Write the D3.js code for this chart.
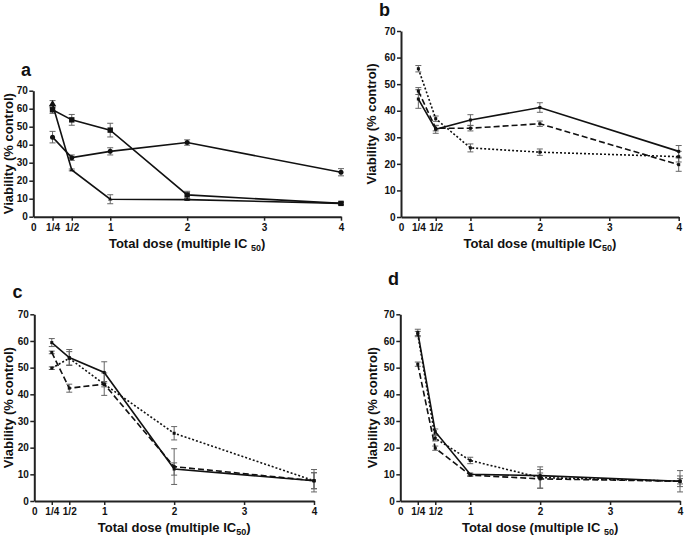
<!DOCTYPE html>
<html><head><meta charset="utf-8">
<script src="https://cdn.jsdelivr.net/npm/d3@7"></script>
<style>html,body{margin:0;padding:0;background:#fff;}svg{display:block;font-family:"Liberation Sans",Arial,sans-serif;}</style>
</head><body>
<svg id="chart" width="685" height="537"></svg>
<script>
// ---- data ----
const doses = [0.25, 0.5, 1, 2, 4];
const doseTicks = [0, 0.25, 0.5, 1, 2, 3, 4];
const doseTickLabels = ["0", "1/4", "1/2", "1", "2", "3", "4"];
const viabilityTicks = [0, 10, 20, 30, 40, 50, 60, 70];

// panel a
const aCircle = [44.2, 32.8, 36.3, 41.2, 24.7];
const aCircleErr = [3.2, 1.5, 2, 1.5, 2];
const aSquare = [59.4, 53.8, 48.1, 12.1, 7.4];
const aSquareErr = [2, 3, 3.8, 2, 0.8];
const aTriangle = [62.5, 26, 9.7, 9.5, 7.4];
const aTriangleErr = [2, 0.5, 2.5, 0.5, 0.5];

// panel b
const bSolid = [44.4, 33, 36.5, 41.2, 24.7];
const bSolidErr = [3.5, 1.5, 2, 1.8, 2.2];
const bDashed = [47.4, 33.4, 33.4, 35.1, 19.7];
const bDashedErr = [1.3, 1, 1, 1, 2.5];
const bDotted = [55.8, 37, 26, 24.4, 22.7];
const bDottedErr = [1.2, 1, 1.5, 1.2, 2];

// panel c
const cSolid = [59.4, 53.8, 48.2, 12, 7.6];
const cSolidErr = [1.5, 3, 4, 2.3, 3];
const cDashed = [55.7, 42.3, 43.8, 12.9, 7.6];
const cDashedErr = [0.5, 1.5, 4.2, 6.7, 4.2];
const cDotted = [49.8, 53.5, 43.8, 25.4, 7.6];
const cDottedErr = [0.5, 2.5, 1, 2.5, 3];

// panel d
const dSolid = [63.2, 26, 10, 9.5, 7.4];
const dSolidErr = [1.2, 1, 0.5, 1, 4];
const dDashed = [51.3, 19.8, 9.7, 8.3, 7.4];
const dDashedErr = [0.8, 0.8, 0.5, 3.5, 1];
const dDotted = [62.6, 23.5, 15.2, 8.8, 7.4];
const dDottedErr = [1, 1, 1.2, 4, 2];

// ---- layout ----
const panels = [
  {letter: "a", x0: 33.3, x1: 341, yTop: 90.7, yBot: 216.7, lx: 21, ly: 76, ytx: 8, sub: "IC ",
   series: [
     {v: aCircle, e: aCircleErr, dash: null, marker: "circle"},
     {v: aSquare, e: aSquareErr, dash: null, marker: "square"},
     {v: aTriangle, e: aTriangleErr, dash: null, marker: "triangle"}]},
  {letter: "b", x0: 401, x1: 678.7, yTop: 31, yBot: 217, lx: 379, ly: 16, ytx: 371, sub: "IC",
   series: [
     {v: bDotted, e: bDottedErr, dash: "2,2", marker: "dot"},
     {v: bDashed, e: bDashedErr, dash: "6,3", marker: "dot"},
     {v: bSolid, e: bSolidErr, dash: null, marker: "dot"}]},
  {letter: "c", x0: 34.3, x1: 314, yTop: 314.3, yBot: 501, lx: 12.5, ly: 298, ytx: 8.5, sub: "IC",
   series: [
     {v: cDotted, e: cDottedErr, dash: "2,2", marker: "dot"},
     {v: cDashed, e: cDashedErr, dash: "6,3", marker: "dot"},
     {v: cSolid, e: cSolidErr, dash: null, marker: "dot"}]},
  {letter: "d", x0: 400.3, x1: 680, yTop: 314.3, yBot: 501, lx: 388, ly: 285, ytx: 372.5, sub: "IC ",
   series: [
     {v: dDotted, e: dDottedErr, dash: "2,2", marker: "dot"},
     {v: dDashed, e: dDashedErr, dash: "6,3", marker: "dot"},
     {v: dSolid, e: dSolidErr, dash: null, marker: "dot"}]}
];

const svg = d3.select("#chart");

panels.forEach(p => {
  const x = d3.scaleLinear().domain([0, 4]).range([p.x0, p.x1]);
  const y = d3.scaleLinear().domain([0, 70]).range([p.yBot, p.yTop]);
  const g = svg.append("g");

  // axes
  const xAxis = d3.axisBottom(x).tickValues(doseTicks)
    .tickFormat((d, i) => doseTickLabels[i]).tickSize(4).tickPadding(3).tickSizeOuter(0);
  const yAxis = d3.axisLeft(y).tickValues(viabilityTicks).tickSize(4).tickPadding(1.5).tickSizeOuter(0);

  const gx = g.append("g").attr("transform", `translate(0,${p.yBot})`).call(xAxis);
  const gy = g.append("g").attr("transform", `translate(${p.x0},0)`).call(yAxis);
  [gx, gy].forEach(ax => {
    ax.select(".domain").attr("stroke", "#222").attr("stroke-width", 2);
    ax.selectAll(".tick line").attr("stroke", "#222").attr("stroke-width", 1.5);
    ax.selectAll(".tick text").attr("fill", "#111").attr("font-size", 10).attr("font-weight", "bold")
      .attr("font-family", "'Liberation Sans', Arial, sans-serif");
  });
  gx.selectAll(".tick").filter(d => d === 0).select("line").remove();

  // error bars
  const cap = 3;
  p.series.forEach(s => {
    const eg = g.append("g").attr("stroke", "#666").attr("stroke-width", 1).attr("fill", "none");
    doses.forEach((d, i) => {
      const cx = x(d), yt = y(s.v[i] + s.e[i]), yb = y(s.v[i] - s.e[i]);
      eg.append("line").attr("x1", cx).attr("x2", cx).attr("y1", yt).attr("y2", yb);
      eg.append("line").attr("x1", cx - cap).attr("x2", cx + cap).attr("y1", yt).attr("y2", yt);
      eg.append("line").attr("x1", cx - cap).attr("x2", cx + cap).attr("y1", yb).attr("y2", yb);
    });
  });

  // lines + markers
  const line = d3.line().x((d, i) => x(doses[i])).y(d => y(d));
  p.series.forEach(s => {
    g.append("path").datum(s.v).attr("d", line).attr("fill", "none")
      .attr("stroke", "#111").attr("stroke-width", 1.6)
      .attr("stroke-dasharray", s.dash);
    const mg = g.append("g").attr("fill", "#111");
    s.v.forEach((v, i) => {
      const cx = x(doses[i]), cy = y(v);
      if (s.marker === "circle") mg.append("circle").attr("cx", cx).attr("cy", cy).attr("r", 2.5);
      else if (s.marker === "square") mg.append("rect").attr("x", cx - 2.7).attr("y", cy - 2.7).attr("width", 5.4).attr("height", 5.4);
      else if (s.marker === "triangle") mg.append("path").attr("d", d3.symbol(d3.symbolTriangle, i === 0 ? 24 : 8)()).attr("transform", `translate(${cx},${cy})`);
      else mg.append("rect").attr("x", cx - 1.5).attr("y", cy - 1.5).attr("width", 3).attr("height", 3);
    });
  });

  // axis titles
  const xt = g.append("text").attr("x", (p.x0 + p.x1) / 2).attr("y", p.yBot + 31)
    .attr("text-anchor", "middle").attr("font-size", 13).attr("font-weight", "bold").attr("fill", "#111");
  xt.append("tspan").text("Total dose (multiple " + p.sub);
  xt.append("tspan").attr("font-size", 9).attr("dy", 3).text("50");
  xt.append("tspan").attr("dy", -3).text(")");

  g.append("text").attr("transform", `translate(${p.ytx},${(p.yTop + p.yBot) / 2}) rotate(-90)`)
    .attr("text-anchor", "middle").attr("dominant-baseline", "central")
    .attr("font-size", 13).attr("font-weight", "bold").attr("fill", "#111")
    .text("Viability (% control)");

  // panel letter
  g.append("text").attr("x", p.lx).attr("y", p.ly).attr("font-size", 18).attr("font-weight", "bold")
    .attr("fill", "#111").text(p.letter);
});
</script>
</body></html>
